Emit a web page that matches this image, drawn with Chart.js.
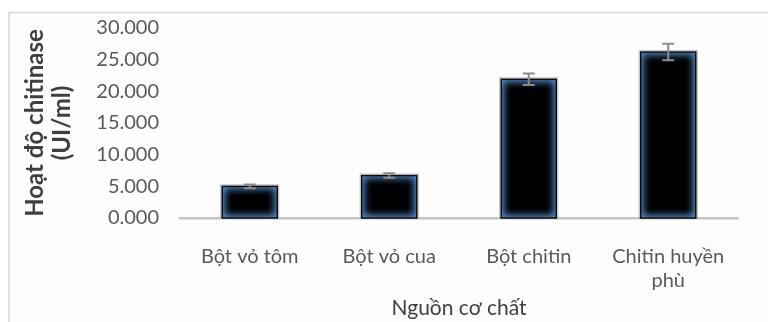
<!DOCTYPE html>
<html lang="vi">
<head>
<meta charset="utf-8">
<title>Hoạt độ chitinase theo nguồn cơ chất</title>
<script src="https://cdn.jsdelivr.net/npm/chart.js@4/dist/chart.umd.min.js"></script>
<style>
  html, body { margin: 0; padding: 0; background: #ffffff; }
  #wrap { width: 768px; height: 322px; }
</style>
</head>
<body>
<div id="wrap"><canvas id="c" width="768" height="322"></canvas></div>
<script>
// Substrate sources (x categories); the last one wraps onto two lines
const categories = ['Bột vỏ tôm', 'Bột vỏ cua', 'Bột chitin', ['Chitin huyền', 'phù']];
// Mean chitinase activity (UI/ml) and its standard error
const activity = [5.0, 6.7, 21.9, 26.2];
const activityErr = [0.3, 0.35, 0.9, 1.3];
// Y axis tick values
const yTicks = [0, 5, 10, 15, 20, 25, 30];

const FONT = 'Lato, "Open Sans", "Noto Sans", sans-serif';

// Light frame around the chart, open on the right and bottom
const framePlugin = {
  id: 'frame',
  beforeDraw(chart) {
    const ctx = chart.ctx;
    ctx.save();
    ctx.fillStyle = '#fdfdfd';
    ctx.fillRect(9, 13, chart.width - 9, chart.height - 13);
    ctx.strokeStyle = '#d6d6d6';
    ctx.lineWidth = 1.5;
    ctx.beginPath();
    ctx.moveTo(9, chart.height);
    ctx.lineTo(9, 12.5);
    ctx.lineTo(chart.width, 12.5);
    ctx.stroke();
    ctx.restore();
  }
};

// Blue inner glow and outline on each bar, then the error bars
const barStylePlugin = {
  id: 'barStyle',
  afterDatasetsDraw(chart) {
    const ctx = chart.ctx;
    const meta = chart.getDatasetMeta(0);
    const yScale = chart.scales.y;
    meta.data.forEach((el, i) => {
      const p = el.getProps(['x', 'y', 'base', 'width'], true);
      const left = p.x - p.width / 2;
      const top = Math.min(p.y, p.base);
      const w = p.width;
      const h = Math.abs(p.base - p.y);

      ctx.save();
      ctx.beginPath();
      ctx.rect(left, top, w, h);
      ctx.clip();
      ctx.shadowColor = 'rgba(90,150,220,1)';
      ctx.shadowBlur = 10;
      ctx.lineWidth = 20;
      ctx.strokeStyle = '#000';
      ctx.strokeRect(left - 10, top - 10, w + 20, h + 20);
      ctx.strokeRect(left - 10, top - 10, w + 20, h + 20);
      ctx.restore();

      ctx.save();
      ctx.strokeStyle = 'rgba(160,160,160,0.7)';
      ctx.lineWidth = 1;
      ctx.strokeRect(left - 1.5, top - 1.5, w + 3, h + 1.5);
      ctx.strokeStyle = '#0a0a0a';
      ctx.lineWidth = 1.5;
      ctx.strokeRect(left, top, w, h);
      ctx.restore();

      // error bar
      const yHi = yScale.getPixelForValue(activity[i] + activityErr[i]);
      const yLo = yScale.getPixelForValue(activity[i] - activityErr[i]);
      const cap = 6;
      ctx.save();
      ctx.strokeStyle = '#8c8c8c';
      ctx.lineWidth = 2;
      ctx.beginPath();
      ctx.moveTo(p.x, yHi); ctx.lineTo(p.x, yLo);
      ctx.moveTo(p.x - cap, yHi); ctx.lineTo(p.x + cap, yHi);
      ctx.moveTo(p.x - cap, yLo); ctx.lineTo(p.x + cap, yLo);
      ctx.stroke();
      ctx.restore();
    });
  }
};

new Chart(document.getElementById('c'), {
  type: 'bar',
  data: {
    labels: categories,
    datasets: [{
      data: activity,
      backgroundColor: '#000000',
      borderWidth: 0,
      barPercentage: 0.395,
      categoryPercentage: 1
    }]
  },
  options: {
    responsive: false,
    animation: false,
    devicePixelRatio: 1,
    layout: { padding: { top: 28, right: 30, left: 0, bottom: 0 } },
    plugins: {
      legend: { display: false },
      tooltip: { enabled: false }
    },
    scales: {
      x: {
        grid: { display: false, drawTicks: false },
        border: { display: true, color: '#c4c4c4', width: 2.5 },
        ticks: {
          color: '#595959',
          font: { family: FONT, size: 20 },
          padding: 27,
          maxRotation: 0,
          autoSkip: false
        },
        title: {
          display: true,
          text: 'Nguồn cơ chất',
          color: '#404040',
          font: { family: FONT, size: 21 },
          padding: { top: 0, bottom: 1 }
        },
        afterFit(scale) { scale.height = 104; }
      },
      y: {
        min: 0,
        max: 30,
        grid: { display: false, drawTicks: false },
        border: { display: false },
        afterBuildTicks(scale) { scale.ticks = yTicks.map(v => ({ value: v })); },
        ticks: {
          color: '#595959',
          font: { family: FONT, size: 20 },
          padding: 21,
          callback: v => v.toFixed(3)
        },
        title: {
          display: true,
          text: ['Hoạt độ chitinase', '(UI/ml)'],
          color: '#3f3f3f',
          font: { family: FONT, size: 24, weight: 'bold', lineHeight: 1.15 },
          padding: { top: 21, bottom: 0 }
        },
        afterFit(scale) {
          scale.width = 180;
          scale.paddingTop = 0;
          scale.paddingBottom = 0;
        }
      }
    }
  },
  plugins: [framePlugin, barStylePlugin]
});
</script>
</body>
</html>
